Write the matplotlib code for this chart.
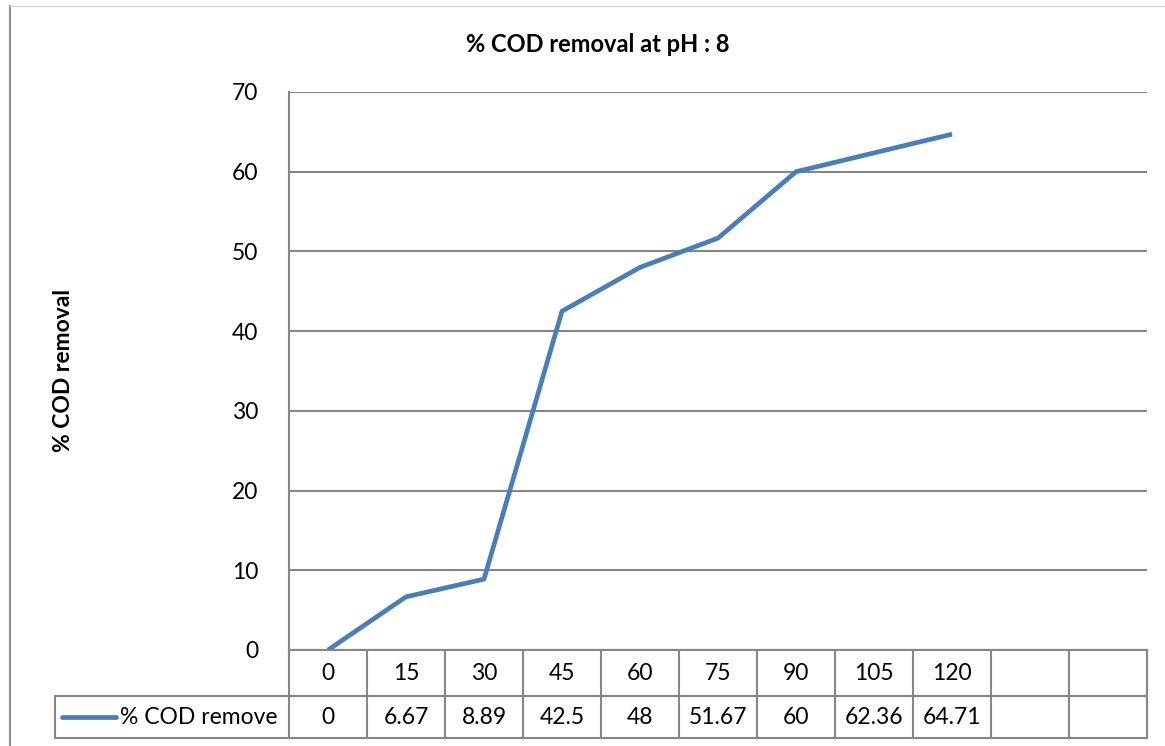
import matplotlib
matplotlib.use("Agg")
import matplotlib.pyplot as plt
from matplotlib.lines import Line2D

plt.rcParams['font.family'] = ['Lato', 'DejaVu Sans']

categories = ["0", "15", "30", "45", "60", "75", "90", "105", "120", "", ""]
values = [0, 6.67, 8.89, 42.5, 48, 51.67, 60, 62.36, 64.71]
value_labels = ["0", "6.67", "8.89", "42.5", "48", "51.67", "60", "62.36", "64.71", "", ""]
series_name = "% COD remove"
title = "% COD removal at pH : 8"
ylabel = "% COD removal"
yticks = [0, 10, 20, 30, 40, 50, 60, 70]

W, H = 1165, 746
fig = plt.figure(figsize=(W / 100, H / 100), dpi=100)
FS = 16.5

# plot area pixel box
L, R, T, B = 289, 1147, 92, 650
ax = fig.add_axes([L / W, (H - B) / H, (R - L) / W, (B - T) / H])
ncat = len(categories)
ax.set_xlim(-0.5, ncat - 0.5)
ax.set_ylim(0, 70)
grid_c = "#868686"
for y in yticks:
    ax.axhline(y, color=grid_c, lw=1.5, zorder=1)
ax.plot(range(len(values)), values, color="#4A7EBB", lw=3.4, solid_capstyle="butt",
        solid_joinstyle="round", zorder=3)
for s in ["top", "right", "bottom"]:
    ax.spines[s].set_visible(False)
ax.spines["left"].set_color(grid_c)
ax.spines["left"].set_linewidth(1.5)
ax.set_xticks([])
ax.set_yticks(yticks)
ax.set_yticklabels([str(v) for v in yticks], fontsize=FS)
ax.tick_params(axis="y", length=0, pad=22)

# table in pixel coordinates
def px(x, y):
    return x / W, 1 - y / H

row1_top, row1_bot, row2_bot = 650, 696, 738
leg_left = 55
colw = (R - L) / ncat

def hline(x0, x1, y):
    fig.add_artist(Line2D([x0 / W, x1 / W], [1 - y / H, 1 - y / H], color=grid_c, lw=1.5))

def vline(x, y0, y1):
    fig.add_artist(Line2D([x / W, x / W], [1 - y0 / H, 1 - y1 / H], color=grid_c, lw=1.5))

hline(L, R, row1_top)
hline(leg_left, R, row1_bot)
hline(leg_left, R, row2_bot)
vline(L, row1_top, row2_bot)
vline(leg_left, row1_bot, row2_bot)
for i in range(1, ncat + 1):
    vline(L + i * colw, row1_top, row2_bot)

for i in range(ncat):
    cx = L + (i + 0.5) * colw
    fig.text(*px(cx, (row1_top + row1_bot) / 2 + 1), categories[i], ha="center", va="center", fontsize=FS)
    fig.text(*px(cx, (row1_bot + row2_bot) / 2), value_labels[i], ha="center", va="center", fontsize=FS)

# legend key
ymid = (row1_bot + row2_bot) / 2
fig.add_artist(Line2D([62 / W, 116 / W], [1 - ymid / H, 1 - ymid / H], color="#4A7EBB", lw=3.4,
                      solid_capstyle="round"))
fig.text(*px(120, ymid), series_name, ha="left", va="center", fontsize=FS)

# title and y label
fig.text(*px(598, 44), title, ha="center", va="center", fontsize=17, fontweight="bold")
fig.text(*px(63, 371), ylabel, ha="center", va="center", fontsize=16.5, fontweight="bold", rotation=90)

# chart area frame
fig.add_artist(Line2D([10 / W, 10 / W], [1 - 6 / H, 0], color="#8C8C8C", lw=1.5))
fig.add_artist(Line2D([10 / W, 1], [1 - 6 / H, 1 - 6 / H], color="#D9D9D9", lw=1.0))

fig.savefig("out.png", dpi=100)
